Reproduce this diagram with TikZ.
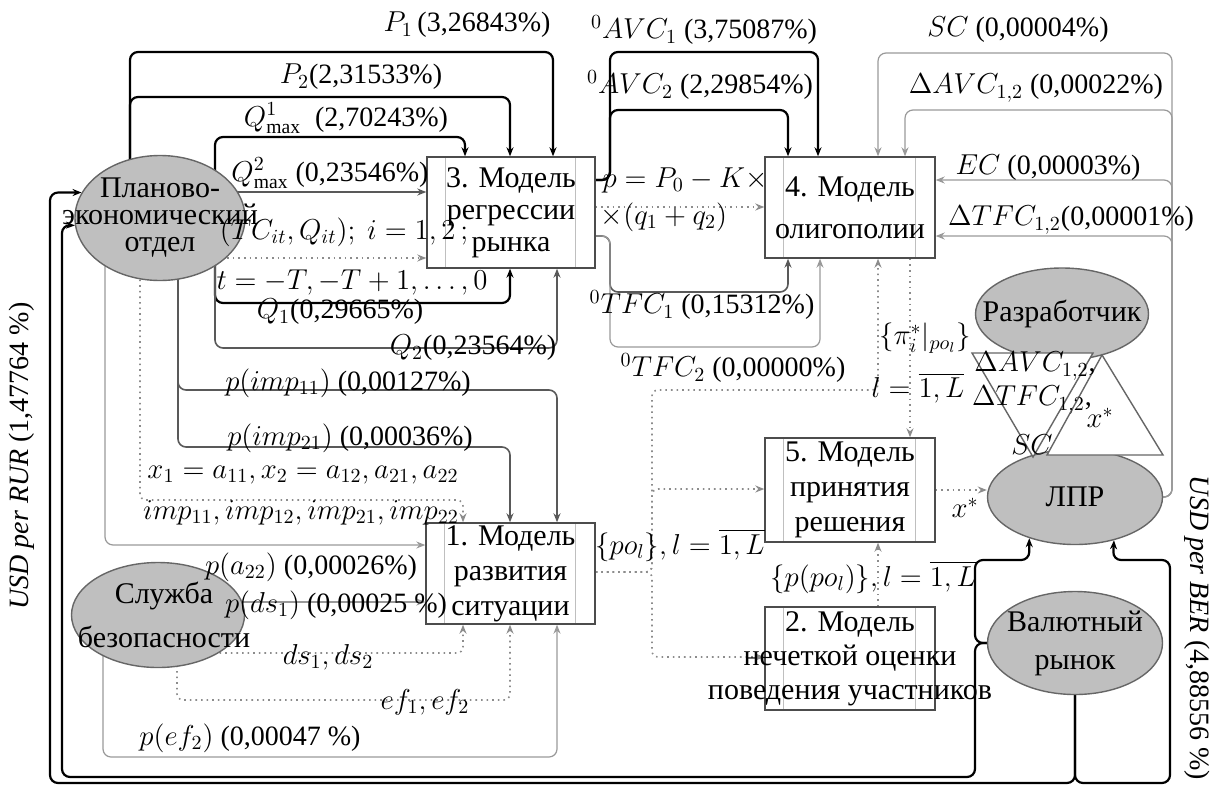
\documentclass[tikz,border=0pt]{standalone}
\usepackage{fontspec}
\setmainfont{Liberation Serif}
\usepackage{amsmath}
\usetikzlibrary{arrows.meta, shapes.geometric, backgrounds}

\begin{document}
\begin{tikzpicture}[x=0.5pt, y=-0.5pt, >={Stealth[length=4.5pt,width=3.5pt]},
    every node/.style={font=\fontsize{14}{16}\selectfont},
    model/.style={draw=black!70, fill=white, line width=0.7pt, inner sep=0pt,
      path picture={\draw[black!25, line width=0.5pt]
        ([xshift=9pt]path picture bounding box.north west) -- ([xshift=9pt]path picture bounding box.south west)
        ([xshift=-10pt]path picture bounding box.north east) -- ([xshift=-10pt]path picture bounding box.south east);}},
    actor/.style={ellipse, draw=black!60, fill=black!25, line width=0.7pt, inner sep=0pt},
    txt/.style={align=center, inner sep=0pt, font=\fontsize{15}{#1}\selectfont},
    lbl/.style={inner sep=0pt},
    strong/.style={->, draw=black, line width=1.1pt, rounded corners=4pt},
    medium/.style={->, draw=black!65, line width=0.8pt, rounded corners=4pt},
    weak/.style={->, draw=black!40, line width=0.6pt, rounded corners=4pt},
    info/.style={->, draw=black!45, line width=0.8pt, dotted, rounded corners=3pt}]
  \useasboundingbox (0,0) rectangle (1213,787);

  % models
  \node[model, minimum width=84pt, minimum height=55.5pt,
    label={[txt=16]center:{3. Модель\\регрессии\\рынка}}] (m3) at (511,212.5) {};
  \node[model, minimum width=85pt, minimum height=50.5pt,
    label={[txt=21]center:{4. Модель\\олигополии}}] (m4) at (850,207.5) {};
  \node[model, minimum width=85pt, minimum height=52pt,
    label={[txt=17.5]center:{5. Модель\\принятия\\решения}}] (m5) at (850,490) {};
  \node[model, minimum width=84.5pt, minimum height=50.5pt,
    label={[txt=17.5]center:{1. Модель\\развития\\ситуации}}] (m1) at (510.5,573.5) {};
  \node[model, minimum width=85pt, minimum height=51.5pt,
    label={[txt=17]center:{2. Модель\\нечеткой оценки\\поведения участников}}] (m2) at (850,658.5) {};

  % participants
  \node[actor, minimum width=85pt, minimum height=62.5pt,
    label={[txt=13.5]center:{Планово-\\экономический\\отдел}}] (plan) at (160,218) {};
  \node[actor, minimum width=86.5pt, minimum height=52.5pt,
    label={[txt=22, xshift=3pt]center:{Служба\\безопасности}}] (bez) at (158,615) {};
  \node[actor, minimum width=86.5pt, minimum height=46pt,
    label={[txt=17]center:{Разработчик}}] (razr) at (1062,314) {};
  \node[actor, minimum width=87.5pt, minimum height=47.5pt,
    label={[txt=17]center:{ЛПР}}] (lpr) at (1075,497) {};
  \node[actor, minimum width=87.5pt, minimum height=51.5pt,
    label={[txt=19]center:{Валютный\\рынок}}] (val) at (1075,643) {};

  % exchange between developer and decision maker
  \draw[black!60, fill=white, line width=0.7pt] (972,353) -- (1093,353) -- (1033,457) -- cycle;
  \draw[black!60, fill=white, line width=0.7pt] (1102,355) -- (1163,455) -- (1047,455) -- cycle;
  \node[lbl] (tavc) at (1035,366) {$\Delta AVC_{1,2}$,};
  \node[lbl] (ttfc) at (1032,400) {$\Delta TFC_{1,2}$,};
  \node[lbl] (tsc) at (1032,445) {$SC$};
  \node[lbl] (tx) at (1100,418) {$x^*$};

  % connectors
  \begin{scope}[on background layer]
    \draw[strong] (130,0 |- plan.center) |- (553,52) -- (553,0 |- m3.north);
    \draw[strong] (130,0 |- plan.center) |- (510,97) -- (510,0 |- m3.north);
    \draw[strong] (215,0 |- plan.center) |- (465,137) -- (465,0 |- m3.north);
    \draw[medium] (plan.center |- 0,192) -- (m3.west |- 0,192);
    \draw[info] (plan.center |- 0,258) -- (m3.west |- 0,258);
    \draw[strong] (215,0 |- plan.center) |- (510,303) -- (510,0 |- m3.south);
    \draw[medium] (215,0 |- plan.center) |- (557,348) -- (557,0 |- m3.south);
    \draw[medium] (178,0 |- plan.center) |- (557,390) -- (557,0 |- m1.north);
    \draw[medium] (178,0 |- plan.center) |- (510,447) -- (510,0 |- m1.north);
    \draw[info] (140,0 |- plan.center) |- (463,500) -- (463,0 |- m1.north);
    \draw[weak] (105,0 |- plan.center) |- (m1.west |- 0,545);

    \draw[strong] (m3.east |- 0,180) -| (610,52) -| (818,0 |- m4.north);
    \draw[strong] (m3.east |- 0,180) -| (610,110) -| (788,0 |- m4.north);
    \draw[info] (m3.east |- 0,207) -- (m4.west |- 0,207);
    \draw[medium] (m3.east |- 0,236) -| (610,292) -| (788,0 |- m4.south);
    \draw[weak] (m3.east |- 0,236) -| (610,347) -| (820,0 |- m4.south);

    \draw[weak] (lpr.east) -| (1172,53) -| (878,0 |- m4.north);
    \draw[weak] (lpr.east) -| (1172,110) -| (905,0 |- m4.north);
    \draw[weak] (lpr.east) -| (1172,180) -- (m4.east |- 0,180);
    \draw[weak] (lpr.east) -| (1172,236) -- (m4.east |- 0,236);

    \draw[info] (m1.east |- 0,572) -| (652,390) -| (878,0 |- m4.south);
    \draw[info] (m1.east |- 0,572) -| (652,489) -- (m5.west |- 0,489);
    \draw[info] (m1.east |- 0,572) -| (652,657) -- (m2.west |- 0,657);
    \draw[info] (910,0 |- m4.south) -- (910,0 |- m5.north);
    \draw[info] (878,0 |- m2.north) -- (878,0 |- m5.south);
    \draw[info] (m5.east |- 0,490) -- (lpr.west |- 0,490);

    \draw[weak] (bez.center |- 0,602) -- (m1.west |- 0,602);
    \draw[info] (bez.center |- 0,653) -| (463,0 |- m1.south);
    \draw[info] (177,0 |- bez.center) |- (510,700) -- (510,0 |- m1.south);
    \draw[weak] (103,0 |- bez.center) |- (557,757) -- (557,0 |- m1.south);

    \draw[strong] (val.south) |- (50,783) |- (plan.162);
    \draw[strong] (val.west) -| (975,777) -| (62,225) -- (plan.185);
    \draw[strong] (val.south) |- (1170,783) |- (1113,560) -- (lpr.312);
    \draw[strong] (val.west) -| (975,560) -| (lpr.222);
  \end{scope}

  % flow labels
  \node[lbl] (lp1) at (467,25) {$P_1$\,(3,26843\%)};
  \node[lbl] (lp2) at (361,77) {$P_2$(2,31533\%)};
  \node[lbl] (lqa) at (346,118) {$Q^1_{\max}$\ \ (2,70243\%)};
  \node[lbl] (lqb) at (330,173) {$Q^2_{\max}$\ (0,23546\%)};
  \node[lbl] (ltc) at (344,232) {$(TC_{it},Q_{it});\ i=1,2\,;$};
  \node[lbl] (lt) at (352,282) {$t=-T,-T+1,\dots,0$};
  \node[lbl] (lq1) at (340,312) {$Q_1$(0,29665\%)};
  \node[lbl] (lq2) at (473,348) {$Q_2$(0,23564\%)};
  \node[lbl] (limpa) at (348,383) {$p(imp_{11})$ (0,00127\%)};
  \node[lbl] (limpb) at (350,438) {$p(imp_{21})$ (0,00036\%)};
  \node[lbl] (lx) at (303,475) {$x_1=a_{11},x_2=a_{12},a_{21},a_{22}$};
  \node[lbl] (limp) at (301,513) {$imp_{11},imp_{12},imp_{21},imp_{22}$};
  \node[lbl] (la22) at (311,567) {$p(a_{22})$ (0,00026\%)};
  \node[lbl] (lds1) at (336,605) {$p(ds_1)$ (0,00025 \%)};
  \node[lbl] (lds) at (328,657) {$ds_1,ds_2$};
  \node[lbl] (lef) at (425,702) {$ef_1,ef_2$};
  \node[lbl] (lef2) at (250,738) {$p(ef_2)$ (0,00047 \%)};
  \node[lbl] (lpo) at (680,545) {$\{po_l\},l=\overline{1,L}$};
  \node[lbl] (lppo) at (873,577) {$\{p(po_l)\},l=\overline{1,L}$};
  \node[lbl] (lprice) at (685,180) {$p=P_0-K\times$};
  \node[lbl] (lq12) at (664,217) {$\times(q_1+q_2)$};
  \node[lbl] (lavca) at (704,30) {${}^0AVC_1$\ (3,75087\%)};
  \node[lbl] (lavcb) at (700,85) {${}^0AVC_2$\ (2,29854\%)};
  \node[lbl] (ltfca) at (702,305) {${}^0TFC_1$\ (0,15312\%)};
  \node[lbl] (ltfcb) at (733,368) {${}^0TFC_2$\ (0,00000\%)};
  \node[lbl] (lsc) at (1018,30) {$SC$\ (0,00004\%)};
  \node[lbl] (ldavc) at (1036,88) {$\Delta AVC_{1,2}$\ (0,00022\%)};
  \node[lbl] (lec) at (1048,168) {$EC$\ (0,00003\%)};
  \node[lbl] (ldtfc) at (1071,220) {$\Delta TFC_{1,2}$(0,00001\%)};
  \node[lbl] (lpi) at (925,338) {$\{\pi_i^*|_{po_l}\}$};
  \node[lbl] (ll) at (918,388) {$l=\overline{1,L}$};
  \node[lbl] (lxs) at (965,508) {$x^*$};
  \node[lbl, rotate=90] (lrur) at (22,456) {\textit{USD per RUR} (1,47764 \%)};
  \node[lbl, rotate=-90] (lber) at (1197,628) {\textit{USD per BER} (4,88556 \%)};
\end{tikzpicture}
\end{document}
